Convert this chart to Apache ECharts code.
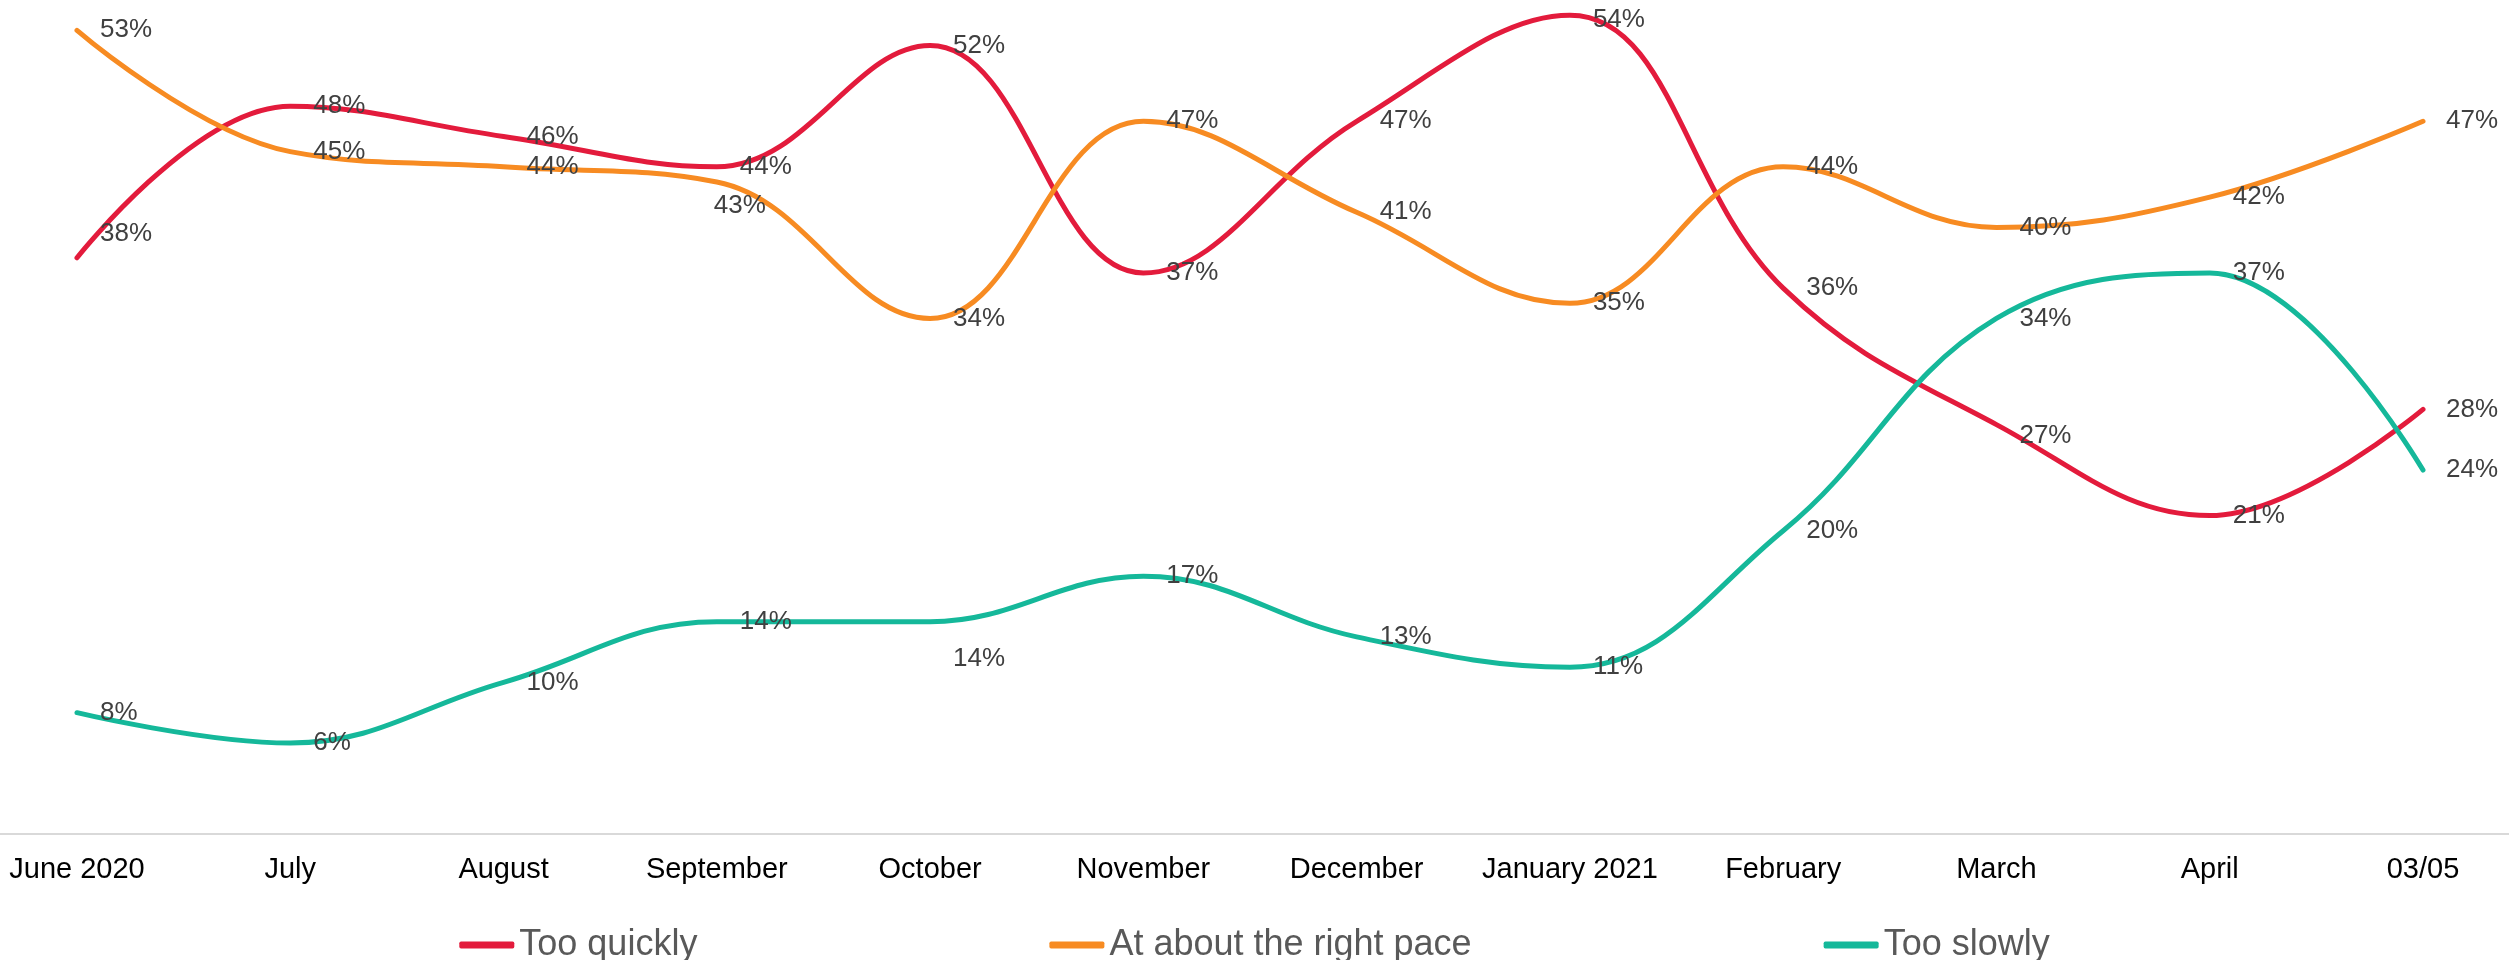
<!DOCTYPE html>
<html>
<head>
<meta charset="utf-8">
<title>Pace of change</title>
<script src="https://cdn.jsdelivr.net/npm/echarts@6/dist/echarts.min.js"></script>
<style>
  html, body { margin: 0; padding: 0; background: #ffffff; }
  #chart { width: 2509px; height: 960px; }
</style>
</head>
<body>
<div id="chart"></div>
<script>
// Survey periods along the x axis
const months = ['June 2020', 'July', 'August', 'September', 'October', 'November',
                'December', 'January 2021', 'February', 'March', 'April', '03/05'];

// Share of respondents (%) per answer
const tooQuickly = [38, 48, 46, 44, 52, 37, 47, 54, 36, 27, 21, 28];
const rightPace  = [53, 45, 44, 43, 34, 47, 41, 35, 44, 40, 42, 47];
const tooSlowly  = [8, 6, 10, 14, 14, 17, 13, 11, 20, 34, 37, 24];

const seriesNames = ['Too quickly', 'At about the right pace', 'Too slowly'];
const seriesColors = ['#E31B3C', '#F78B22', '#15B89A'];

// A few value labels sit off their default spot to avoid overlaps
const labelOffsets = {
  '0-0': [0, -24],
  '0-7': [0, 5],
  '0-9': [0, 11],
  '1-3': [-26, 24],
  '2-4': [0, 37]
};

const FONT = '"Liberation Sans", Arial, Helvetica, sans-serif';

function buildSeries(name, values, color, sIdx) {
  return {
    name: name,
    type: 'line',
    xAxisIndex: 0,
    yAxisIndex: 0,
    smooth: 0.4,
    symbol: 'circle',
    symbolSize: 2,
    showSymbol: true,
    lineStyle: { width: 5, color: color, cap: 'round' },
    itemStyle: { color: color },
    emphasis: { disabled: true },
    label: {
      show: true,
      position: 'right',
      distance: 22,
      color: '#404040',
      fontSize: 26,
      fontFamily: FONT,
      formatter: p => p.value + '%'
    },
    data: values.map((v, i) => {
      const off = labelOffsets[sIdx + '-' + i];
      return off ? { value: v, label: { offset: off } } : v;
    })
  };
}

const chart = echarts.init(document.getElementById('chart'), null, { renderer: 'canvas' });
chart.setOption({
  animation: false,
  backgroundColor: '#ffffff',
  textStyle: { fontFamily: FONT },
  grid: [
    { left: 77, right: 86, top: 0, bottom: 126, containLabel: false },
    // full-width strip that only carries the baseline
    { left: 0, right: 0, top: 0, bottom: 126, containLabel: false }
  ],
  legend: {
    top: 922,
    left: 'center',
    itemGap: 352,
    itemWidth: 55,
    itemHeight: 7,
    icon: 'roundRect',
    textStyle: { fontSize: 36, color: '#595959', fontFamily: FONT },
    data: seriesNames
  },
  xAxis: [
    {
      type: 'category',
      gridIndex: 0,
      data: months,
      boundaryGap: false,
      axisLine: { show: false },
      axisTick: { show: false },
      axisLabel: { color: '#000000', fontSize: 29, fontFamily: FONT, margin: 21, interval: 0 },
      splitLine: { show: false }
    },
    {
      type: 'category',
      gridIndex: 1,
      data: months,
      axisLine: { show: true, lineStyle: { color: '#D9D9D9', width: 2 } },
      axisTick: { show: false },
      axisLabel: { show: false },
      splitLine: { show: false }
    }
  ],
  yAxis: [
    { type: 'value', gridIndex: 0, min: 0, max: 55, show: false, splitLine: { show: false } },
    { type: 'value', gridIndex: 1, min: 0, max: 55, show: false, splitLine: { show: false } }
  ],
  series: [
    buildSeries(seriesNames[0], tooQuickly, seriesColors[0], 0),
    buildSeries(seriesNames[1], rightPace, seriesColors[1], 1),
    buildSeries(seriesNames[2], tooSlowly, seriesColors[2], 2)
  ]
});
</script>
</body>
</html>
